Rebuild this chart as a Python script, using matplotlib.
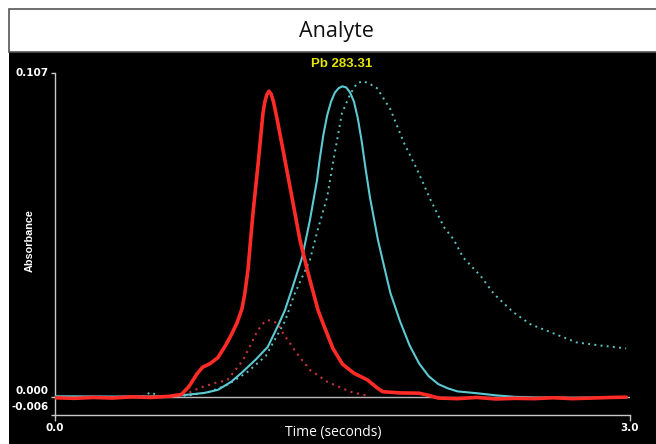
import matplotlib
matplotlib.use("Agg")
import matplotlib.pyplot as plt
from matplotlib.patches import Rectangle
from matplotlib import transforms

# ---- data ----
red_t = [0.0, 0.1, 0.2, 0.3, 0.4, 0.5, 0.6, 0.66, 0.70, 0.74, 0.77, 0.81, 0.85, 0.89, 0.92,
         0.95, 0.975, 0.99, 1.007, 1.02, 1.033, 1.06, 1.085, 1.095, 1.105, 1.116, 1.128,
         1.14, 1.158, 1.19, 1.236, 1.278, 1.32, 1.372, 1.40, 1.45, 1.50, 1.56, 1.63, 1.68,
         1.71, 1.80, 1.90, 1.95, 2.0, 2.1, 2.2, 2.3, 2.4, 2.5, 2.6, 2.7, 2.8, 2.9, 2.98]
red_v = [-0.0003, -0.0005, -0.0002, -0.0004, 0.0, -0.0002, 0.0002, 0.0008, 0.0035, 0.0075,
         0.0098, 0.0110, 0.0130, 0.0170, 0.0205, 0.0245, 0.0290, 0.0340, 0.0420, 0.0515,
         0.0607, 0.0772, 0.0937, 0.0975, 0.0998, 0.1010, 0.1000, 0.0975, 0.0920, 0.0815,
         0.0660, 0.0518, 0.0410, 0.0287, 0.0240, 0.0160, 0.0108, 0.0078, 0.0056, 0.0030,
         0.0017, 0.0013, 0.0012, 0.0005, -0.0004, -0.0006, -0.0002, -0.0007, -0.0005,
         -0.0006, -0.0003, -0.0006, -0.0004, -0.0002, -0.0001]

cyan_t = [0.0, 0.3, 0.6, 0.69, 0.78, 0.85, 0.92, 0.98, 1.05, 1.11, 1.17, 1.20, 1.24, 1.29,
          1.33, 1.367, 1.38, 1.40, 1.42, 1.44, 1.46, 1.48, 1.50, 1.52, 1.54, 1.56, 1.58,
          1.60, 1.62, 1.643, 1.685, 1.73, 1.75, 1.80, 1.85, 1.90, 1.95, 2.0, 2.05, 2.1, 2.2,
          2.3, 2.4, 2.5, 2.7, 2.98]
cyan_v = [0.0002, 0.0001, 0.0002, 0.0007, 0.0013, 0.0023, 0.0050, 0.0083, 0.0125, 0.0165,
          0.0244, 0.0287, 0.0363, 0.0462, 0.0584, 0.0716, 0.0780, 0.0865, 0.0930, 0.0975,
          0.1005, 0.1020, 0.1026, 0.1022, 0.1005, 0.0975, 0.0920, 0.0845, 0.0755, 0.0660,
          0.0518, 0.0396, 0.0343, 0.0250, 0.0170, 0.0110, 0.0068, 0.0042, 0.0028, 0.0018,
          0.0012, 0.0005, 0.0, -0.0002, -0.0003, -0.0002]

cyan_dot_t = [0.0, 0.45, 0.5, 0.55, 0.7, 0.8, 0.9, 1.0, 1.1, 1.2, 1.25, 1.33, 1.37, 1.42,
              1.45, 1.497, 1.54, 1.575, 1.607, 1.64, 1.68, 1.75, 1.82, 1.89, 1.96, 2.03,
              2.08, 2.13, 2.22, 2.29, 2.39, 2.48, 2.60, 2.72, 2.84, 2.98]
cyan_dot_v = [0.0, 0.0, 0.0015, 0.0, 0.0005, 0.0015, 0.0040, 0.0080, 0.0135, 0.0250, 0.0340,
              0.0452, 0.0550, 0.0660, 0.0772, 0.0937, 0.1000, 0.1036, 0.1043, 0.1035, 0.1020,
              0.0950, 0.0840, 0.0750, 0.0650, 0.0560, 0.0520, 0.0460, 0.0400, 0.0340, 0.0280,
              0.0240, 0.0210, 0.0180, 0.0170, 0.0160]

red_dot_t = [0.67, 0.756, 0.83, 0.90, 0.98, 1.05, 1.08, 1.11, 1.16, 1.19, 1.26, 1.33, 1.42,
             1.54, 1.62]
red_dot_v = [0.0005, 0.0030, 0.0045, 0.0056, 0.0120, 0.0210, 0.0240, 0.0254, 0.0244, 0.0210,
             0.0145, 0.0089, 0.0050, 0.0017, 0.0005]

y_ticks = [0.107, 0.0, -0.006]
y_tick_labels = ["0.107", "0.000", "-0.006"]
y_label_dy = [0, 6, 8]  # pixel lift of each label
x_ticks = [0.0, 3.0]
x_tick_labels = ["0.0", "3.0"]

W, H = 656, 444
fig = plt.figure(figsize=(W / 100, H / 100), dpi=100)
fig.patch.set_facecolor("white")

# frame: title band and black panel
fig.add_artist(Rectangle((9 / W, 0), 1, 1 - 52 / H, transform=fig.transFigure,
                         facecolor="black", edgecolor="none", zorder=0))
fig.add_artist(Rectangle((9 / W, 1 - 52 / H), 1, 43 / H, transform=fig.transFigure,
                         facecolor="white", edgecolor="#555555", lw=1.2, zorder=1))
fig.text(336 / W, 1 - 31 / H, "Analyte", ha="center", va="center",
         fontsize=15.5, family="Open Sans", color="#111111")

ax = fig.add_axes([55 / W, 29 / H, 575 / W, 342 / H])
ax.set_facecolor("black")
ax.set_xlim(0, 3.0)
ax.set_ylim(-0.006, 0.107)

ax.axhline(0, color="#b8b8b8", lw=1.0, zorder=1)

ax.plot(cyan_dot_t, cyan_dot_v, color="#5cc4c4", lw=1.4, ls=(0, (1, 2.2)), zorder=2)
ax.plot(red_dot_t, red_dot_v, color="#c8323e", lw=1.5, ls=(0, (1, 2.2)), zorder=2)
ax.plot(cyan_t, cyan_v, color="#5ccad2", lw=1.5, zorder=3)
ax.plot(red_t, red_v, color="#ff2b26", lw=2.6, zorder=4, solid_capstyle="round",
        solid_joinstyle="round")

for s in ["top", "right"]:
    ax.spines[s].set_visible(False)
for s in ["left", "bottom"]:
    ax.spines[s].set_color("#c8c8c8")
    ax.spines[s].set_linewidth(1.0)

ax.set_yticks(y_ticks)
ax.set_yticklabels([""] * len(y_ticks))
ax.tick_params(axis="y", colors="#c8c8c8", length=3, width=1, direction="out")
ytrans = ax.get_yaxis_transform()
for val, lab, dy in zip(y_ticks, y_tick_labels, y_label_dy):
    off = transforms.ScaledTranslation(-6 / 100, dy / 100, fig.dpi_scale_trans)
    ax.text(0, val, lab, transform=ytrans + off, ha="right", va="center",
            fontsize=7.5, fontweight="bold", family="DejaVu Sans", color="white")

ax.set_xticks(x_ticks)
ax.set_xticklabels(x_tick_labels, fontsize=7.5, fontweight="bold",
                   family="DejaVu Sans", color="white")
ax.tick_params(axis="x", colors="#c8c8c8", length=4, width=1, direction="out", pad=1.5,
               labelcolor="white")

fig.text(333 / W, 12 / H, "Time (seconds)", ha="center", va="center",
         fontsize=10, family="Open Sans", color="white")
fig.text(30 / W, 1 - 241 / H, "Absorbance", ha="center", va="center", rotation=90,
         fontsize=7.8, fontweight="bold", family="Liberation Sans", color="white")
fig.text(342 / W, 1 - 64 / H, "Pb 283.31", ha="center", va="center",
         fontsize=9.5, fontweight="bold", family="Liberation Sans", color="#e6e600")

fig.savefig("out.png", dpi=100, facecolor=fig.get_facecolor())
